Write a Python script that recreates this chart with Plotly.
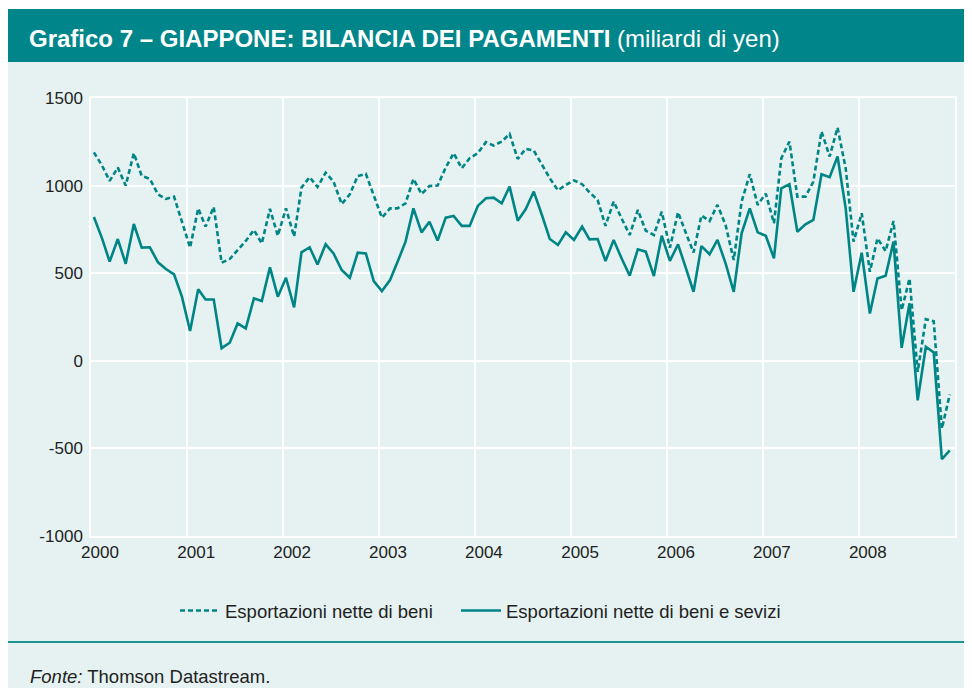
import pandas as pd
import plotly.graph_objects as go

# ---- data (miliardi di yen), monthly Jan 2000 - Dec 2008 ----
beni = [
    1190, 1114, 1027, 1103, 1000, 1185, 1055, 1038, 950, 924, 937, 794,      # 2000
    646, 870, 766, 878, 560, 581, 632, 684, 747, 670, 867, 714,               # 2001
    870, 709, 989, 1048, 992, 1074, 1023, 895, 950, 1055, 1067, 943,          # 2002
    817, 870, 870, 899, 1038, 952, 998, 1000, 1103, 1185, 1099, 1156,         # 2003
    1185, 1248, 1229, 1251, 1295, 1152, 1210, 1200, 1118, 1042, 973, 1004,    # 2004
    1030, 1008, 962, 918, 770, 909, 813, 718, 861, 743, 718, 851,             # 2005
    645, 848, 737, 618, 829, 798, 890, 775, 575, 909, 1065, 890,              # 2006
    954, 785, 1156, 1251, 937, 937, 1023, 1309, 1166, 1331, 1099, 680,        # 2007
    842, 508, 699, 626, 798, 289, 470, -63, 238, 226, -387, -192,             # 2008
]
beni_servizi = [
    821, 699, 566, 695, 554, 781, 646, 648, 562, 524, 493, 366,               # 2000
    170, 408, 350, 350, 72, 103, 213, 185, 356, 341, 533, 366,                # 2001
    474, 305, 619, 648, 550, 665, 613, 518, 474, 617, 613, 455,               # 2002
    398, 461, 562, 680, 870, 733, 794, 686, 817, 827, 770, 770,               # 2003
    884, 928, 931, 899, 994, 800, 865, 966, 832, 695, 661, 733,               # 2004
    690, 766, 693, 695, 570, 690, 585, 486, 636, 623, 484, 714,               # 2005
    570, 665, 537, 394, 655, 608, 690, 556, 394, 728, 870, 733,               # 2006
    714, 585, 985, 1008, 737, 779, 804, 1065, 1048, 1166, 870, 394,           # 2007
    617, 270, 470, 485, 680, 74, 328, -226, 80, 48, -562, -511,               # 2008
]
dates = pd.date_range("2000-01-01", periods=len(beni), freq="MS") + pd.Timedelta(days=11)
year_ticks = [f"{y}-01-01" for y in range(2000, 2010)]
year_labels = [str(y) for y in range(2000, 2009)] + [""]
y_ticks = [-1000, -500, 0, 500, 1000, 1500]
y_labels = ["-1000", "-500", "0", "500", "1000", "1500"]

series_names = ["Esportazioni nette di beni", "Esportazioni nette di beni e sevizi"]

# ---- style ----
TEAL = "#00868a"
LINE = "#008586"
LIGHT = "#e5f2f1"
FONT = "Liberation Sans, Arial, sans-serif"

OFF = 8  # page body margin
W, H = 972 - OFF, 688 - OFF
L, R, T, B = 91 - OFF, 955 - OFF, 98 - OFF, 536 - OFF  # plot-area pixel box (figure coords)


def px(x):  # page pixel -> paper x
    return (x - OFF - L) / (R - L)


def py(y):  # page pixel -> paper y
    return (B - (y - OFF)) / (B - T)


fig = go.Figure()
fig.add_trace(go.Scatter(x=dates, y=beni, mode="lines", name=series_names[0],
                         line=dict(color=LINE, width=2.6, dash="5px,3px"), legend="legend"))
fig.add_trace(go.Scatter(x=dates, y=beni_servizi, mode="lines", name=series_names[1],
                         line=dict(color=LINE, width=2.6), legend="legend2"))

shapes = [
    dict(type="rect", xref="paper", yref="paper", x0=px(0), x1=px(980), y0=py(62), y1=py(700),
         fillcolor=LIGHT, line_width=0, layer="below"),
    dict(type="rect", xref="paper", yref="paper", x0=px(0), x1=px(980), y0=py(62), y1=py(9),
         fillcolor=TEAL, line_width=0, layer="below"),
    dict(type="line", xref="paper", yref="paper", x0=px(0), x1=px(980), y0=py(642), y1=py(642),
         line=dict(color="#1f9591", width=2)),
]

annotations = [
    dict(xref="paper", yref="paper", x=px(27), y=py(39), xanchor="left", yanchor="middle",
         text="<b>Grafico 7 – GIAPPONE: BILANCIA DEI PAGAMENTI</b> (miliardi di yen)",
         showarrow=False, font=dict(family=FONT, size=24, color="white")),
    dict(xref="paper", yref="paper", x=px(28), y=py(676), xanchor="left", yanchor="middle",
         text="<i>Fonte:</i> Thomson Datastream.",
         showarrow=False, font=dict(family=FONT, size=18.5, color="#222222")),
]

legend_style = dict(orientation="h", y=py(611), xanchor="left", yanchor="middle",
                    bgcolor="rgba(0,0,0,0)", font=dict(size=18.5, color="#222222"),
                    itemwidth=40, tracegroupgap=0)

fig.update_layout(
    width=W, height=H,
    margin=dict(l=L, r=W - R, t=T, b=H - B, pad=0),
    paper_bgcolor="white",
    plot_bgcolor=LIGHT,
    font=dict(family=FONT, size=17, color="#222222"),
    shapes=shapes,
    annotations=annotations,
    showlegend=True,
    legend=dict(x=px(175), **legend_style),
    legend2=dict(x=px(456), **legend_style),
)
fig.update_xaxes(
    type="date", range=["2000-01-01", "2009-01-01"],
    tickmode="array", tickvals=year_ticks, ticktext=year_labels,
    showgrid=True, gridcolor="white", gridwidth=1.5,
    showline=True, linecolor="white", linewidth=1.5, mirror=True,
    ticks="", zeroline=False, ticklabelshift=9,
    tickfont=dict(size=17, color="#222222"),
)
fig.update_yaxes(
    range=[-1000, 1500], tickmode="array", tickvals=y_ticks, ticktext=y_labels,
    showgrid=True, gridcolor="white", gridwidth=1.5,
    showline=True, linecolor="white", linewidth=1.5, mirror=True,
    ticks="", zeroline=False, ticklabelstandoff=3,
    tickfont=dict(size=17, color="#222222"),
)

fig.write_html("out.html")
